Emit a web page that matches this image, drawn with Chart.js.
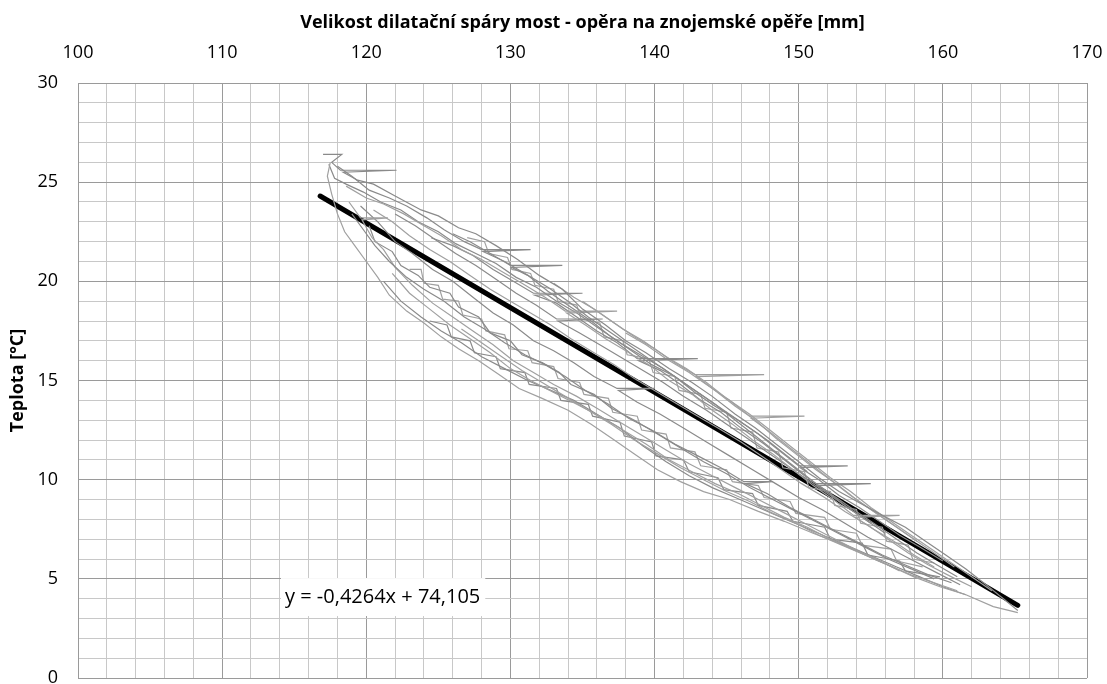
<!DOCTYPE html>
<html>
<head>
<meta charset="utf-8">
<script src="https://cdn.jsdelivr.net/npm/chart.js@4/dist/chart.umd.min.js"></script>
<style>
  html, body { margin: 0; padding: 0; overflow: hidden; background: #fff; }
  canvas { display: block; }
</style>
</head>
<body>
<canvas id="gapChart" width="1107" height="684"></canvas>
<script>
// Axis labels
const xTickLabels = [100, 110, 120, 130, 140, 150, 160, 170];
const yTickLabels = [0, 5, 10, 15, 20, 25, 30];
const xTitle = 'Velikost dilatační spáry most - opěra na znojemské opěře [mm]';
const yTitle = 'Teplota [°C]';

// Trend line (linear regression)
const trendSlope = -0.4264;
const trendIntercept = 74.105;
const trendRange = [116.8, 165.2];
const trendText = 'y = -0,4264x + 74,105';

const run1 = [[117.0,26.4],[118.3,26.4],[117.6,26.0],[118.2,25.6],[122.1,25.6],[118.4,25.5],[119.4,25.1],[120.5,24.9],[122.0,24.3],[123.8,23.6],[125.0,23.3],[126.4,22.7],[127.6,22.4],[129.0,21.8],[130.5,21.1],[132.0,20.3],[133.6,19.6],[135.0,18.6],[136.6,17.8],[138.0,17.0],[139.4,16.4],[141.0,15.6],[142.6,14.9],[144.0,14.2],[145.6,13.3],[147.0,12.6],[148.6,11.7],[150.0,10.9],[151.4,10.1],[152.8,9.4],[154.3,8.8],[155.8,8.2],[157.4,7.6],[158.8,6.9],[160.2,6.2],[161.6,5.5],[163.0,4.7],[164.2,4.0],[165.2,3.4]];
const run2 = [[165.2,3.3],[163.5,3.6],[161.6,4.2],[159.8,4.6],[158.0,5.1],[156.2,5.7],[154.6,6.2],[152.8,6.8],[151.0,7.3],[149.0,7.9],[147.2,8.4],[145.2,9.0],[143.4,9.4],[141.8,9.9],[140.2,10.5],[138.6,11.3],[137.0,12.1],[135.6,12.8],[134.0,13.5],[132.2,14.1],[130.6,14.6],[129.2,15.3],[127.8,16.0],[126.4,16.6],[125.2,17.2],[124.0,17.9],[122.8,18.5],[121.6,19.3],[120.8,20.2],[120.0,21.0],[119.2,21.8],[118.5,22.5],[118.0,23.4],[117.6,24.4],[117.3,25.3],[117.5,26.0]];
const run3 = [[118.0,25.8],[119.0,25.3],[120.2,24.6],[121.6,24.2],[122.8,23.8],[124.2,23.2],[125.4,22.6],[126.8,22.0],[128.0,21.6],[131.4,21.6],[128.1,21.5],[129.6,21.0],[131.0,20.4],[132.6,19.7],[134.0,19.0],[135.4,18.2],[137.0,17.4],[138.4,16.7],[139.8,16.0],[141.2,15.3],[142.8,14.5],[144.2,13.8],[145.6,13.0],[147.0,12.2],[148.4,11.4],[149.8,10.6],[151.2,9.8],[155.0,9.8],[151.3,9.7],[152.6,9.1],[154.0,8.4],[155.4,7.7],[156.8,7.0],[158.2,6.3],[159.6,5.7],[161.0,5.1]];
const run4 = [[118.6,24.8],[120.0,24.2],[121.2,23.9],[122.6,23.4],[124.0,22.8],[125.2,22.3],[126.6,21.6],[128.0,21.1],[129.4,20.5],[130.8,19.9],[132.4,19.2],[133.8,18.5],[137.4,18.5],[133.9,18.4],[135.2,17.8],[136.6,17.1],[138.0,16.5],[139.6,15.8],[141.0,15.0],[142.6,14.3],[144.0,13.5],[145.4,12.8],[146.8,12.0],[148.2,11.3],[149.6,10.5],[151.0,9.7],[152.4,9.0],[153.8,8.2],[157.0,8.2],[153.9,8.1],[155.2,7.5],[156.6,6.9],[158.0,6.2],[159.4,5.6]];
const run5 = [[124.5,22.2],[126.0,21.8],[127.4,21.3],[128.8,20.6],[130.2,20.0],[131.6,19.4],[135.0,19.4],[131.7,19.3],[133.2,18.9],[134.6,18.2],[136.0,17.5],[137.4,16.9],[138.8,16.1],[143.0,16.1],[138.9,16.0],[140.4,15.5],[141.8,14.8],[143.2,14.0],[144.6,13.4],[146.0,12.6],[147.6,11.8],[149.0,11.0],[150.4,10.2],[151.8,9.5],[153.2,8.7],[154.6,8.0],[156.0,7.3]];
const run6 = [[120.5,23.6],[121.8,23.0],[123.0,22.3],[124.4,21.6],[125.8,21.0],[127.2,20.3],[128.6,19.6],[130.0,19.0],[131.4,18.4],[132.8,17.8],[134.2,17.1],[135.8,16.4],[137.2,15.8],[138.6,15.1],[140.0,14.5],[141.6,13.8],[143.0,13.2],[144.4,12.6],[146.0,11.9],[147.4,11.2],[148.8,10.5],[150.2,9.8],[151.8,9.1],[153.2,8.4],[154.8,7.7],[156.2,7.0],[157.6,6.3],[159.0,5.7],[160.6,5.1],[162.0,4.6]];
const run7 = [[119.0,23.4],[119.8,22.6],[120.6,21.8],[121.6,21.0],[122.8,20.2],[124.0,19.6],[125.4,19.0],[126.8,18.2],[128.2,17.6],[129.6,16.9],[131.0,16.3],[132.4,15.8],[133.8,15.2],[135.2,14.5],[136.8,13.8],[138.2,13.1],[139.8,12.5],[141.4,11.8],[143.0,11.2],[144.6,10.6],[146.2,9.9],[148.2,9.9],[146.3,9.8],[147.8,9.3],[149.4,8.6],[151.0,8.0],[152.6,7.4],[154.2,6.8],[155.8,6.2],[157.4,5.7],[159.0,5.2],[160.6,4.8]];
const run8 = [[118.8,24.0],[119.6,23.2],[121.5,23.2],[119.7,23.1],[120.4,22.2],[121.2,21.6],[122.0,20.7],[123.2,19.8],[124.6,18.9],[126.0,18.2],[127.4,17.5],[128.8,16.8],[130.2,16.0],[131.6,15.4],[133.0,14.8],[134.6,14.2],[136.0,13.6],[137.6,12.9],[139.2,12.2],[140.8,11.5],[142.4,10.8],[144.0,10.2],[145.6,9.6],[147.2,9.0],[148.8,8.4],[150.4,7.8],[152.0,7.2],[153.6,6.6],[155.2,6.0],[156.8,5.5]];
const run9 = [[119.6,23.8],[120.8,23.0],[122.0,22.0],[123.2,21.4],[124.6,20.6],[126.0,20.0],[127.4,19.2],[128.8,18.4],[130.2,17.8],[131.6,17.0],[133.0,16.5],[134.4,15.9],[135.8,15.2],[137.4,14.6],[140.0,14.6],[137.5,14.5],[138.8,13.9],[140.4,13.3],[142.0,12.6],[143.6,11.9],[145.2,11.2],[146.8,10.5],[148.4,9.8],[150.0,9.1],[151.6,8.5],[153.2,7.8],[154.8,7.1],[156.4,6.5],[158.0,5.9],[159.6,5.3],[161.2,4.7]];
const run10 = [[121.8,20.4],[123.0,19.4],[124.4,18.6],[125.8,17.8],[127.2,17.1],[128.6,16.4],[130.0,15.6],[131.4,15.0],[133.0,14.4],[134.6,13.8],[136.2,13.2],[137.8,12.5],[139.4,11.8],[141.0,11.0],[142.6,10.4],[144.2,9.8],[145.8,9.3],[147.4,8.7],[149.0,8.1],[150.6,7.6],[152.2,7.0],[153.8,6.5],[155.4,6.0],[157.0,5.4]];
const run11 = [[126.0,22.4],[127.2,22.0],[128.6,21.4],[130.0,20.8],[133.6,20.8],[130.1,20.7],[131.2,20.3],[132.6,19.5],[134.0,18.8],[135.6,18.0],[137.0,17.2],[138.4,16.5],[139.8,15.8],[141.4,15.2],[142.8,14.4],[144.2,13.7],[145.8,13.0],[147.2,12.3],[148.6,11.5],[150.0,10.7],[153.4,10.7],[150.1,10.6],[151.4,10.0],[152.8,9.2],[154.2,8.6],[155.6,7.9],[157.0,7.2],[158.4,6.6],[160.0,5.9]];
const run12 = [[133.0,19.9],[134.4,19.2],[135.8,18.6],[137.2,17.9],[138.6,17.2],[140.0,16.6],[141.4,15.9],[142.8,15.3],[147.6,15.3],[142.9,15.2],[144.2,14.5],[145.6,13.7],[147.0,13.0],[148.4,12.1],[149.8,11.3],[151.2,10.5],[152.6,9.8],[154.0,9.0],[155.4,8.3],[156.8,7.6],[158.2,6.9]];
const run13 = [[117.4,25.9],[117.8,25.2],[118.6,24.9],[119.8,24.5],[121.0,24.0],[122.4,23.6],[123.6,23.0],[125.0,22.5],[126.2,21.9],[127.6,21.4],[129.0,20.9],[130.4,20.2],[131.8,19.7],[133.2,19.0],[134.6,18.4],[136.2,17.6],[137.6,16.9],[139.0,16.3],[140.6,15.6],[142.0,14.9],[143.4,14.2],[144.8,13.5],[146.4,12.7],[147.8,12.0],[149.2,11.2],[150.6,10.4]];
const run14 = [[135.0,19.0],[136.4,18.3],[137.8,17.6],[139.2,17.0],[140.8,16.2],[142.2,15.6],[143.6,14.9],[145.0,14.1],[146.6,13.3],[148.0,12.5],[149.4,11.7],[150.8,10.9],[152.2,10.1],[153.6,9.4],[155.0,8.6],[156.4,7.9],[157.8,7.2],[159.2,6.5],[160.6,5.8],[162.0,5.1],[163.4,4.4]];
const run15 = [[120.2,22.8],[120.6,22.0],[121.8,21.5],[122.4,20.8],[123.6,20.3],[124.4,19.7],[125.8,19.4],[126.4,18.7],[127.8,18.2],[128.6,17.4],[130.0,17.0],[130.8,16.3],[132.2,15.9],[133.4,15.4],[134.2,14.8],[135.8,14.3],[137.0,13.6],[138.6,13.0],[140.2,12.3],[141.8,11.6],[143.4,10.9],[145.0,10.3],[146.6,9.6],[148.2,9.0],[149.8,8.4],[151.4,7.8],[153.0,7.2],[154.6,6.6],[156.2,6.0],[157.8,5.5],[159.4,5.0]];
const run16 = [[126.6,17.6],[128.0,16.9],[129.4,16.2],[130.8,15.5],[132.2,14.9],[133.8,14.2],[135.4,13.5],[137.0,12.8],[138.6,12.0],[140.2,11.3],[141.8,10.6],[143.4,10.0],[145.0,9.4],[146.6,8.9],[148.2,8.3],[149.8,7.8],[151.4,7.2],[153.0,6.7],[154.6,6.2],[156.2,5.7],[157.8,5.2],[159.4,4.8],[161.0,4.4]];
const run17 = [[122.0,23.4],[123.4,22.8],[124.8,22.1],[126.2,21.4],[127.6,20.8],[129.0,20.1],[130.4,19.4],[131.8,18.8],[133.2,18.1],[136.4,18.1],[133.3,18.0],[134.8,17.4],[136.2,16.8],[137.6,16.2],[139.2,15.5],[140.6,14.9],[142.0,14.2],[143.6,13.5],[145.0,12.8],[146.4,12.1],[147.8,11.4],[149.4,10.6],[150.8,9.9],[152.2,9.2],[153.6,8.5],[155.0,7.8]];
const run18 = [[138.0,17.4],[139.4,16.8],[140.8,16.1],[142.4,15.4],[143.8,14.7],[145.2,14.0],[146.6,13.2],[150.4,13.2],[146.7,13.1],[148.0,12.4],[149.4,11.6],[150.8,10.8],[152.2,10.0],[153.6,9.2],[155.0,8.5],[156.4,7.8],[157.8,7.1],[159.2,6.4],[160.8,5.6]];
const run19 = [[121.2,20.0],[122.4,19.0],[123.8,18.2],[125.2,17.5],[126.6,16.9],[128.0,16.2],[129.6,15.6],[131.2,15.0],[132.8,14.5],[134.4,14.0],[136.0,13.3],[137.6,12.6],[139.2,11.7],[140.8,10.9],[142.4,10.2],[144.0,9.6],[145.6,9.1],[147.2,8.6],[148.8,8.1],[150.4,7.6],[152.0,7.1],[153.6,6.6],[155.2,6.1],[156.8,5.6],[158.4,5.1],[160.0,4.6],[161.6,4.2]];
const run20 = [[123.0,20.6],[123.8,20.6],[124.0,19.9],[125.0,19.8],[125.3,19.1],[126.4,19.0],[126.7,18.3],[128.0,18.1],[128.3,17.5],[129.6,17.3],[129.9,16.6],[131.2,16.5],[131.5,15.9],[133.0,15.7],[133.3,15.1],[134.8,14.9],[135.1,14.3],[136.8,14.1],[137.1,13.4],[138.8,13.2],[139.1,12.5],[140.8,12.3],[141.1,11.6],[142.8,11.4],[143.2,10.7],[145.0,10.5],[145.4,9.9],[147.2,9.7],[147.6,9.1],[149.4,8.9],[149.8,8.3],[151.8,8.1],[152.2,7.5],[154.0,7.3],[154.4,6.7],[156.4,6.5],[156.8,5.9],[158.6,5.6]];
const run21 = [[124.4,18.0],[125.6,17.8],[125.9,17.2],[127.2,17.0],[127.5,16.4],[129.0,16.2],[129.3,15.6],[131.0,15.4],[131.3,14.8],[133.2,14.6],[133.5,14.0],[135.4,13.8],[135.7,13.2],[137.6,12.9],[137.9,12.2],[139.8,11.9],[140.1,11.2],[142.0,11.0],[142.4,10.4],[144.4,10.1],[144.8,9.5],[146.8,9.3],[147.2,8.7],[149.2,8.4],[149.6,7.9],[151.8,7.6],[152.2,7.0],[154.4,6.8],[154.8,6.2],[157.0,5.9],[157.4,5.4],[159.8,5.1]];
const run22 = [[127.0,22.2],[128.2,22.0],[128.5,21.4],[129.8,21.2],[130.1,20.6],[131.4,20.4],[131.7,19.8],[133.0,19.6],[133.3,19.0],[134.6,18.8],[134.9,18.1],[136.2,17.9],[136.5,17.2],[137.8,17.0],[138.1,16.3],[139.6,16.1],[139.9,15.4],[141.4,15.2],[141.7,14.5],[143.2,14.3],[143.5,13.6],[145.0,13.4],[145.3,12.6],[146.8,12.4],[147.1,11.6],[148.6,11.4],[148.9,10.6],[150.4,10.4],[150.7,9.6],[152.2,9.4],[152.5,8.7],[154.0,8.5],[154.3,7.8],[155.8,7.6],[156.1,6.9],[157.6,6.7],[157.9,6.0],[159.4,5.8]];

const runs = [run1, run2, run3, run4, run5, run6, run7, run8, run9, run10, run11,
              run12, run13, run14, run15, run16, run17, run18, run19, run20, run21, run22];

const datasets = runs.map((r, i) => ({
  data: r.map(p => ({ x: p[0], y: p[1] })),
  showLine: true,
  borderColor: i % 2 ? '#a0a0a0' : '#8a8a8a',
  borderWidth: 1.2,
  pointRadius: 0,
  tension: 0
}));

datasets.push({
  data: trendRange.map(x => ({ x: x, y: trendSlope * x + trendIntercept })),
  showLine: true,
  borderColor: '#000',
  borderWidth: 5,
  borderCapStyle: 'round',
  pointRadius: 0
});

// Equation label with white box
const equationLabel = {
  id: 'equationLabel',
  afterDatasetsDraw(chart) {
    const ctx = chart.ctx;
    const x = chart.scales.x.getPixelForValue(114.36);
    const y = chart.scales.y.getPixelForValue(4.08);
    ctx.save();
    ctx.font = '20px "Open Sans"';
    const w = ctx.measureText(trendText).width;
    ctx.fillStyle = '#fff';
    ctx.fillRect(x - 4, y - 19, w + 9, 38);
    ctx.fillStyle = '#000';
    ctx.textBaseline = 'middle';
    ctx.fillText(trendText, x, y);
    ctx.restore();
  }
};

const gridColor = major => ctx => (ctx.tick && major(ctx.tick.value)) ? '#9a9a9a' : '#c8c8c8';

new Chart(document.getElementById('gapChart'), {
  type: 'scatter',
  data: { datasets: datasets },
  plugins: [equationLabel],
  options: {
    responsive: false,
    animation: false,
    layout: { padding: { left: 0, top: 0, right: 20, bottom: 6 } },
    plugins: { legend: { display: false }, tooltip: { enabled: false } },
    scales: {
      x: {
        position: 'top',
        min: xTickLabels[0],
        max: xTickLabels[xTickLabels.length - 1],
        afterFit(scale) {
          scale.height = 83;
          scale.paddingLeft = 0;
          scale.paddingRight = 0;
        },
        border: { color: '#9a9a9a' },
        grid: { color: gridColor(v => v % 10 === 0), drawTicks: false },
        ticks: {
          stepSize: 2,
          autoSkip: false,
          maxRotation: 0,
          minRotation: 0,
          padding: 19,
          color: '#000',
          font: { family: 'Open Sans', size: 18 },
          callback: v => xTickLabels.includes(v) ? v : ''
        },
        title: {
          display: true,
          text: xTitle,
          color: '#000',
          font: { family: 'Open Sans', size: 18, weight: 'bold' },
          padding: { top: 12, bottom: 0 }
        }
      },
      y: {
        min: yTickLabels[0],
        max: yTickLabels[yTickLabels.length - 1],
        afterFit(scale) {
          scale.width = 78;
          scale.paddingTop = 0;
          scale.paddingBottom = 0;
        },
        border: { color: '#9a9a9a' },
        grid: { color: gridColor(v => v % 5 === 0), drawTicks: false },
        ticks: {
          stepSize: 1,
          autoSkip: false,
          padding: 20,
          color: '#000',
          font: { family: 'Open Sans', size: 18 },
          callback: v => yTickLabels.includes(v) ? v : ''
        },
        title: {
          display: true,
          text: yTitle,
          color: '#000',
          font: { family: 'Open Sans', size: 18, weight: 'bold' },
          padding: { top: 7, bottom: 0 }
        }
      }
    }
  }
});
</script>
</body>
</html>
